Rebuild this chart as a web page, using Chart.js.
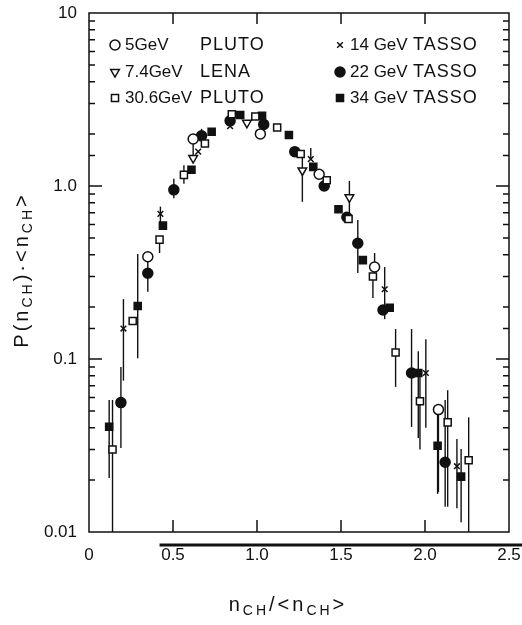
<!DOCTYPE html>
<html>
<head>
<meta charset="utf-8">
<script src="https://cdn.jsdelivr.net/npm/chart.js@4.4.1/dist/chart.umd.min.js"></script>
<style>
  body { margin: 0; background: #fff; }
  canvas { display: block; }
</style>
</head>
<body>
<canvas id="myChart" width="522" height="625"></canvas>
<script>
// tick labels
const xTickVals = [0, 0.5, 1, 1.5, 2, 2.5]
const xTickLabels = ['0', '0.5', '1.0', '1.5', '2.0', '2.5']
const yTickVals = [0.01, 0.1, 1, 10]
const yTickLabels = ['0.01', '0.1', '1.0', '10']

// o 5 GeV PLUTO
const pluto5X = [0.35, 0.62, 1.02, 1.37, 1.70, 2.08]
const pluto5Y = [0.39, 1.87, 2.0, 1.17, 0.34, 0.051]
const pluto5Lo = [0.31, 1.45, null, null, 0.30, 0.017]
const pluto5Hi = [null, null, null, null, 0.41, null]

// v 7.4 GeV LENA
const lenaX = [0.62, 0.94, 1.27, 1.55]
const lenaY = [1.45, 2.32, 1.23, 0.86]
const lenaLo = [null, null, 0.81, 0.65]
const lenaHi = [null, null, 1.5, 1.07]

// open square 30.6 GeV PLUTO
const pluto30X = [0.14, 0.26, 0.42, 0.565, 0.69, 0.85, 0.99, 1.12, 1.26, 1.415, 1.545, 1.69, 1.825, 1.97, 2.135, 2.26]
const pluto30Y = [0.030, 0.166, 0.49, 1.16, 1.76, 2.6, 2.52, 2.18, 1.53, 1.08, 0.645, 0.30, 0.109, 0.057, 0.043, 0.026]
const pluto30Lo = [0.006, null, 0.41, 1.03, null, null, null, null, null, null, null, 0.225, 0.069, 0.030, 0.014, 0.006]
const pluto30Hi = [0.058, null, null, 1.32, null, null, null, null, null, null, null, null, 0.149, 0.083, 0.066, 0.046]

// x 14 GeV TASSO
const tasso14X = [0.205, 0.425, 0.65, 0.84, 1.12, 1.32, 1.76, 2.005, 2.19]
const tasso14Y = [0.15, 0.69, 1.58, 2.22, 2.2, 1.43, 0.253, 0.083, 0.024]
const tasso14Lo = [0.075, 0.6, null, null, null, null, 0.17, 0.04, 0.0137]
const tasso14Hi = [0.222, 0.76, null, null, null, 1.66, 0.34, 0.13, 0.0345]

// filled circle 22 GeV TASSO
const tasso22X = [0.19, 0.35, 0.505, 0.67, 0.84, 1.04, 1.225, 1.40, 1.535, 1.60, 1.75, 1.92, 2.12]
const tasso22Y = [0.056, 0.313, 0.95, 1.95, 2.38, 2.27, 1.58, 1.0, 0.66, 0.467, 0.192, 0.083, 0.0253]
const tasso22Lo = [0.0306, 0.245, 0.85, null, null, null, null, null, null, 0.314, null, 0.0405, 0.014]
const tasso22Hi = [0.09, null, 1.10, 2.14, null, null, null, null, null, 0.636, null, 0.149, 0.058]

// filled square 34 GeV TASSO
const tasso34X = [0.12, 0.29, 0.44, 0.61, 0.73, 0.90, 1.03, 1.19, 1.335, 1.485, 1.63, 1.79, 1.96, 2.075, 2.215]
const tasso34Y = [0.0406, 0.2025, 0.59, 1.24, 2.06, 2.57, 2.55, 1.97, 1.29, 0.733, 0.373, 0.198, 0.083, 0.0315, 0.0209]
const tasso34Lo = [0.0205, 0.101, null, null, null, null, null, null, null, null, null, null, 0.035, 0.0166, 0.0114]
const tasso34Hi = [0.058, 0.405, null, null, null, null, null, null, null, null, null, null, 0.111, 0.05, 0.0302]

const FONT = '"Liberation Sans", Arial, sans-serif'
const INK = '#111'

const makePoints = (xs, ys) => xs.map((x, i) => ({ x: x, y: ys[i] }))

const series = [
    { label: '5GeV', exp: 'PLUTO', col: 0, xs: pluto5X, ys: pluto5Y, lo: pluto5Lo, hi: pluto5Hi, style: 'circle', rot: 0, fill: '#fff' },
    { label: '7.4GeV', exp: 'LENA', col: 0, xs: lenaX, ys: lenaY, lo: lenaLo, hi: lenaHi, style: 'triangle', rot: 180, fill: '#fff' },
    { label: '30.6GeV', exp: 'PLUTO', col: 0, xs: pluto30X, ys: pluto30Y, lo: pluto30Lo, hi: pluto30Hi, style: 'rect', rot: 0, fill: '#fff' },
    { label: '14 GeV', exp: 'TASSO', col: 1, xs: tasso14X, ys: tasso14Y, lo: tasso14Lo, hi: tasso14Hi, style: 'crossRot', rot: 0, fill: INK },
    { label: '22 GeV', exp: 'TASSO', col: 1, xs: tasso22X, ys: tasso22Y, lo: tasso22Lo, hi: tasso22Hi, style: 'circle', rot: 0, fill: INK },
    { label: '34 GeV', exp: 'TASSO', col: 1, xs: tasso34X, ys: tasso34Y, lo: tasso34Lo, hi: tasso34Hi, style: 'rect', rot: 0, fill: INK }
]

// text with subscripts, parts = [[text, isSub], ...]
const drawRich = (c, parts, x, y) => {
    c.letterSpacing = '3px'
    let w = 0
    parts.forEach(p => {
        c.font = (p[1] ? '14px ' : '20px ') + FONT
        w += c.measureText(p[0]).width
    })
    let cx = x - w / 2
    parts.forEach(p => {
        c.font = (p[1] ? '14px ' : '20px ') + FONT
        c.fillText(p[0], cx, p[1] ? y + 6 : y)
        cx += c.measureText(p[0]).width
    })
    c.letterSpacing = '0px'
}

const errorBars = {
    id: 'errorBars',
    beforeDatasetsDraw(chart) {
        const c = chart.ctx
        const xs = chart.scales.x
        const ys = chart.scales.y
        const a = chart.chartArea
        c.save()
        c.beginPath()
        c.rect(a.left, a.top, a.right - a.left, a.bottom - a.top)
        c.clip()
        c.strokeStyle = INK
        c.lineWidth = 1.4
        series.forEach(s => {
            s.xs.forEach((x, i) => {
                const px = xs.getPixelForValue(x)
                const py = ys.getPixelForValue(s.ys[i])
                const top = s.hi[i] != null ? ys.getPixelForValue(s.hi[i]) : py
                const bot = s.lo[i] != null ? ys.getPixelForValue(s.lo[i]) : py
                if (top === bot) return
                c.beginPath()
                c.moveTo(px, top)
                c.lineTo(px, bot)
                c.stroke()
            })
        })
        c.restore()
    }
}

const frame = {
    id: 'frame',
    afterDraw(chart) {
        const c = chart.ctx
        const a = chart.chartArea
        const xs = chart.scales.x
        const ys = chart.scales.y
        c.save()
        c.strokeStyle = INK
        c.lineWidth = 1.5
        c.strokeRect(a.left, a.top, a.right - a.left, a.bottom - a.top)

        // inward ticks on x (top and bottom)
        xTickVals.slice(1, -1).forEach(v => {
            const px = xs.getPixelForValue(v)
            c.beginPath()
            c.moveTo(px, a.top); c.lineTo(px, a.top + 11)
            c.moveTo(px, a.bottom); c.lineTo(px, a.bottom - 12)
            c.stroke()
        })

        // inward log ticks on y (left and right)
        ys.ticks.forEach(t => {
            const v = t.value
            if (v <= 0.01 || v >= 10) return
            const major = yTickVals.includes(v)
            const len = major ? 13 : 6
            const py = ys.getPixelForValue(v)
            c.beginPath()
            c.moveTo(a.left, py); c.lineTo(a.left + len, py)
            c.moveTo(a.right, py); c.lineTo(a.right - len, py)
            c.stroke()
        })

        // heavy rule under the x axis
        c.lineWidth = 3
        c.beginPath()
        c.moveTo(xs.getPixelForValue(0.42), a.bottom + 13)
        c.lineTo(chart.width, a.bottom + 13)
        c.stroke()

        // axis titles
        c.fillStyle = INK
        c.textBaseline = 'middle'
        drawRich(c, [['n', 0], ['CH', 1], ['/<n', 0], ['CH', 1], ['>', 0]], 288, 605)
        c.save()
        c.translate(22, 270)
        c.rotate(-Math.PI / 2)
        drawRich(c, [['P(n', 0], ['CH', 1], [')·<n', 0], ['CH', 1], ['>', 0]], 0, 0)
        c.restore()

        // legend
        const rowY = [45, 72, 98]
        const cols = [{ mark: 115, txt: 125, exp: 200 }, { mark: 340, txt: 350, exp: 413 }]
        const counts = [0, 0]
        c.textAlign = 'left'
        series.forEach(s => {
            const col = cols[s.col]
            const y = rowY[counts[s.col]++]
            c.fillStyle = s.fill
            c.strokeStyle = INK
            c.lineWidth = 1.5
            Chart.helpers.drawPoint(c, { pointStyle: s.style, rotation: s.rot, radius: s.style === 'crossRot' ? 4 : 5, borderWidth: 1.5 }, col.mark, y)
            c.fillStyle = INK
            c.font = '17px ' + FONT
            c.letterSpacing = '0px'
            c.fillText(s.label, col.txt, y)
            c.font = '18px ' + FONT
            c.letterSpacing = '1px'
            c.fillText(s.exp, col.exp, y)
        })
        c.restore()
    }
}

const ctx = document.getElementById('myChart').getContext('2d')

const chart = new Chart(ctx, {
    type: 'scatter',
    data: {
        datasets: series.map(s => ({
            label: s.label + ' ' + s.exp,
            data: makePoints(s.xs, s.ys),
            pointStyle: s.style,
            rotation: s.rot,
            pointRadius: s.style === 'crossRot' ? 4 : 5,
            pointBorderWidth: 1.5,
            pointBackgroundColor: s.fill,
            pointBorderColor: INK,
            showLine: false
        }))
    },
    options: {
        responsive: false,
        animation: false,
        layout: { padding: { left: 0, top: 13, right: 13, bottom: 0 } },
        plugins: {
            legend: { display: false },
            tooltip: { enabled: false }
        },
        scales: {
            x: {
                type: 'linear',
                min: 0,
                max: 2.5,
                grid: { display: false, drawTicks: false },
                border: { display: false },
                afterFit: s => {
                    s.height = 93
                    s.paddingLeft = 0
                    s.paddingRight = 0
                },
                afterBuildTicks: s => { s.ticks = xTickVals.map(v => ({ value: v })) },
                ticks: {
                    padding: 13,
                    color: INK,
                    font: { family: FONT, size: 17 },
                    maxRotation: 0,
                    callback: v => xTickLabels[xTickVals.indexOf(v)]
                }
            },
            y: {
                type: 'logarithmic',
                min: 0.01,
                max: 10,
                grid: { display: false, drawTicks: false },
                border: { display: false },
                afterFit: s => {
                    s.width = 89
                    s.paddingTop = 0
                    s.paddingBottom = 0
                },
                ticks: {
                    padding: 12,
                    color: INK,
                    autoSkip: false,
                    font: { family: FONT, size: 17 },
                    callback: v => {
                        const i = yTickVals.findIndex(t => Math.abs(t - v) < v * 1e-6)
                        return i >= 0 ? yTickLabels[i] : ''
                    }
                }
            }
        }
    },
    plugins: [errorBars, frame]
})
</script>
</body>
</html>
